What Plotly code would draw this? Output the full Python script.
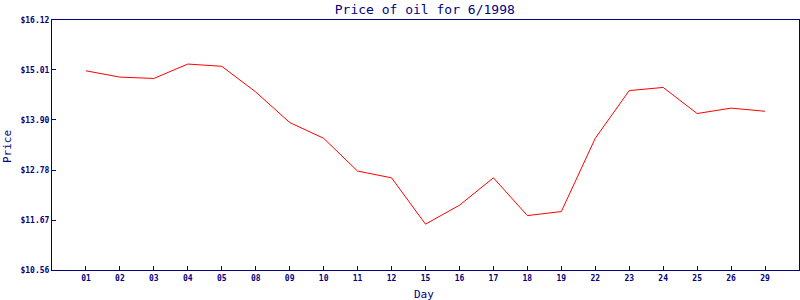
import plotly.graph_objects as go

days = ["01", "02", "03", "04", "05", "08", "09", "10", "11", "12", "15",
        "16", "17", "18", "19", "22", "23", "24", "25", "26", "29"]
prices = [14.99, 14.85, 14.82, 15.14, 15.09, 14.52, 13.84, 13.49, 12.76, 12.61, 11.58,
          12.00, 12.61, 11.77, 11.86, 13.49, 14.55, 14.62, 14.04, 14.16, 14.09]
y_ticks = [10.56, 11.67, 12.78, 13.90, 15.01, 16.12]
y_tick_labels = ["$10.56", "$11.67", "$12.78", "$13.90", "$15.01", "$16.12"]

NAVY = "#000080"
FONT = "DejaVu Sans Mono"

fig = go.Figure()
fig.add_trace(go.Scatter(x=days, y=prices, mode="lines",
                         line=dict(color="#ff0000", width=1), showlegend=False,
                         hoverinfo="skip"))

fig.update_layout(
    width=800, height=300,
    margin=dict(l=52, r=1, t=20, b=30),
    paper_bgcolor="white", plot_bgcolor="white",
    title=dict(text="Price of oil for 6/1998", x=0.531, xanchor="center",
               y=1 - 9 / 300, yanchor="middle",
               font=dict(family=FONT, size=13, color=NAVY)),
    xaxis=dict(type="category", range=[-1, 21], categoryorder="array",
               categoryarray=days, tickvals=days, ticktext=days,
               showgrid=False, zeroline=False,
               showline=True, linecolor=NAVY, linewidth=1, mirror=True,
               ticks="inside", ticklen=4, tickcolor=NAVY,
               tickfont=dict(family=FONT, size=8, color=NAVY, weight="bold")),
    yaxis=dict(range=[10.56, 16.12], tickvals=y_ticks, ticktext=y_tick_labels,
               showgrid=False, zeroline=False,
               showline=True, linecolor=NAVY, linewidth=1, mirror=True,
               ticks="inside", ticklen=4, tickcolor=NAVY,
               tickfont=dict(family=FONT, size=8, color=NAVY, weight="bold")),
    annotations=[
        dict(text="Day", xref="paper", yref="paper", x=(424 - 52) / 747,
             y=-24 / 250, xanchor="center", yanchor="middle", showarrow=False,
             font=dict(family=FONT, size=11, color=NAVY)),
        dict(text="Price", xref="paper", yref="paper", x=-45 / 747,
             y=(270 - 147) / 250, xanchor="center", yanchor="middle", showarrow=False,
             textangle=-90, font=dict(family=FONT, size=11, color=NAVY)),
    ],
)

fig.write_html("out.html")
